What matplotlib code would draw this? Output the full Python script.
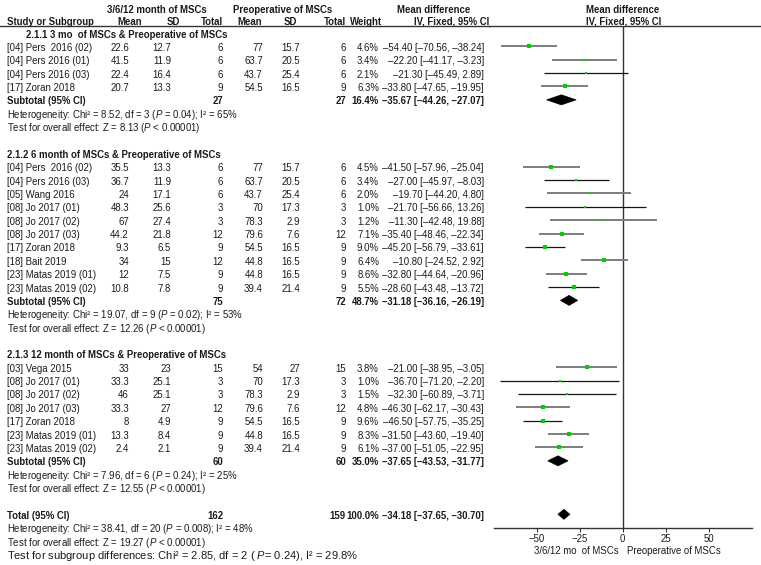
import matplotlib
matplotlib.use("Agg")
import matplotlib.pyplot as plt
from matplotlib.patches import Polygon
from matplotlib.lines import Line2D
import numpy as np

plt.rcParams['font.family'] = ['Liberation Sans', 'DejaVu Sans']
plt.rcParams['mathtext.fontset'] = 'custom'
plt.rcParams['mathtext.it'] = 'Liberation Sans:italic'
plt.rcParams['mathtext.rm'] = 'Liberation Sans'

# ---------------- data ----------------
studies1 = ["[04] Pers  2016 (02)", "[04] Pers 2016 (01)", "[04] Pers 2016 (03)", "[17] Zoran 2018"]
exp_mean1 = [22.6, 41.5, 22.4, 20.7]
exp_sd1 = [12.7, 11.9, 16.4, 13.3]
exp_n1 = [6, 6, 6, 9]
ctl_mean1 = [77, 63.7, 43.7, 54.5]
ctl_sd1 = [15.7, 20.5, 25.4, 16.5]
ctl_n1 = [6, 6, 6, 9]
weight1 = [4.6, 3.4, 2.1, 6.3]
md1 = [-54.40, -22.20, -21.30, -33.80]
lo1 = [-70.56, -41.17, -45.49, -47.65]
hi1 = [-38.24, -3.23, 2.89, -19.95]

studies2 = ["[04] Pers  2016 (02)", "[04] Pers 2016 (03)", "[05] Wang 2016", "[08] Jo 2017 (01)",
            "[08] Jo 2017 (02)", "[08] Jo 2017 (03)", "[17] Zoran 2018", "[18] Bait 2019",
            "[23] Matas 2019 (01)", "[23] Matas 2019 (02)"]
exp_mean2 = [35.5, 36.7, 24, 48.3, 67, 44.2, 9.3, 34, 12, 10.8]
exp_sd2 = [13.3, 11.9, 17.1, 25.6, 27.4, 21.8, 6.5, 15, 7.5, 7.8]
exp_n2 = [6, 6, 6, 3, 3, 12, 9, 12, 9, 9]
ctl_mean2 = [77, 63.7, 43.7, 70, 78.3, 79.6, 54.5, 44.8, 44.8, 39.4]
ctl_sd2 = [15.7, 20.5, 25.4, 17.3, 2.9, 7.6, 16.5, 16.5, 16.5, 21.4]
ctl_n2 = [6, 6, 6, 3, 3, 12, 9, 9, 9, 9]
weight2 = [4.5, 3.4, 2.0, 1.0, 1.2, 7.1, 9.0, 6.4, 8.6, 5.5]
md2 = [-41.50, -27.00, -19.70, -21.70, -11.30, -35.40, -45.20, -10.80, -32.80, -28.60]
lo2 = [-57.96, -45.97, -44.20, -56.66, -42.48, -48.46, -56.79, -24.52, -44.64, -43.48]
hi2 = [-25.04, -8.03, 4.80, 13.26, 19.88, -22.34, -33.61, 2.92, -20.96, -13.72]

studies3 = ["[03] Vega 2015", "[08] Jo 2017 (01)", "[08] Jo 2017 (02)", "[08] Jo 2017 (03)",
            "[17] Zoran 2018", "[23] Matas 2019 (01)", "[23] Matas 2019 (02)"]
exp_mean3 = [33, 33.3, 46, 33.3, 8, 13.3, 2.4]
exp_sd3 = [23, 25.1, 25.1, 27, 4.9, 8.4, 2.1]
exp_n3 = [15, 3, 3, 12, 9, 9, 9]
ctl_mean3 = [54, 70, 78.3, 79.6, 54.5, 44.8, 39.4]
ctl_sd3 = [27, 17.3, 2.9, 7.6, 16.5, 16.5, 21.4]
ctl_n3 = [15, 3, 3, 12, 9, 9, 9]
weight3 = [3.8, 1.0, 1.5, 4.8, 9.6, 8.3, 6.1]
md3 = [-21.00, -36.70, -32.30, -46.30, -46.50, -31.50, -37.00]
lo3 = [-38.95, -71.20, -60.89, -62.17, -57.75, -43.60, -51.05]
hi3 = [-3.05, -2.20, -3.71, -30.43, -35.25, -19.40, -22.95]

section_titles = ["2.1.1 3 mo  of MSCs & Preoperative of MSCs",
                  "2.1.2 6 month of MSCs & Preoperative of MSCs",
                  "2.1.3 12 month of MSCs & Preoperative of MSCs"]
sub_exp_n = [27, 75, 60]
sub_ctl_n = [27, 72, 60]
sub_weight = [16.4, 48.7, 35.0]
sub_md = [-35.67, -31.18, -37.65]
sub_lo = [-44.26, -36.16, -43.53]
sub_hi = [-27.07, -26.19, -31.77]
sub_het = ["Heterogeneity: Chi² = 8.52, df = 3 ($P$ = 0.04); I² = 65%",
           "Heterogeneity: Chi² = 19.07, df = 9 ($P$ = 0.02); I² = 53%",
           "Heterogeneity: Chi² = 7.96, df = 6 ($P$ = 0.24); I² = 25%"]
sub_z = ["Test for overall effect: Z = 8.13 ($P$ < 0.00001)",
         "Test for overall effect: Z = 12.26 ($P$ < 0.00001)",
         "Test for overall effect: Z = 12.55 ($P$ < 0.00001)"]

tot_exp_n = 162
tot_ctl_n = 159
tot_weight = 100.0
tot_md = -34.18
tot_lo = -37.65
tot_hi = -30.70
tot_het = "Heterogeneity: Chi² = 38.41, df = 20 ($P$ = 0.008); I² = 48%"
tot_z = "Test for overall effect: Z = 19.27 ($P$ < 0.00001)"
tot_sub = "Test for subgroup differences: Chi² = 2.85, df = 2 ( $P$= 0.24), I² = 29.8%"

xticks = [-50, -25, 0, 25, 50]
exp_label = "3/6/12 mo  of MSCs"
ctl_label = "Preoperative of MSCs"

sections = [
    (studies1, exp_mean1, exp_sd1, exp_n1, ctl_mean1, ctl_sd1, ctl_n1, weight1, md1, lo1, hi1),
    (studies2, exp_mean2, exp_sd2, exp_n2, ctl_mean2, ctl_sd2, ctl_n2, weight2, md2, lo2, hi2),
    (studies3, exp_mean3, exp_sd3, exp_n3, ctl_mean3, ctl_sd3, ctl_n3, weight3, md3, lo3, hi3),
]

# line rendering tone per row (as it appears in the reference image)
ci_tone = [[0, 0, 1, 0],
           [0, 1, 0, 1, 0, 0, 1, 0, 0, 1],
           [0, 1, 1, 0, 1, 0, 0]]

# ---------------- layout ----------------
W, H = 761, 565
fig = plt.figure(figsize=(W / 100, H / 100), dpi=100)
fig.patch.set_facecolor('white')
at = fig.add_axes([0, 0, 1, 1])
at.set_xlim(0, W)
at.set_ylim(H, 0)
at.axis('off')

FS = 6.9
TC = '#1a1a1a'
Y0, DY = 34.0, 13.37
BASE = 3.5   # baseline offset below visual centre


def ry(r):
    return Y0 + DY * r


def txt(x, y, s, ha='left', bold=False, fs=FS, **kw):
    at.text(x, y + BASE, s, ha=ha, va='baseline', fontsize=fs, color=TC,
            fontweight='bold' if bold else 'normal', **kw)


def fnum(v):
    return f"{v:g}"


def fmd(m, l, h):
    return f"{m:.2f} [{l:.2f}, {h:.2f}]".replace('-', '–')


# column right edges
X_STUDY = 7
X_EM, X_ESD, X_EN = 129, 171, 223
X_CM, X_CSD, X_CN = 263, 300, 346
X_W, X_MD = 379, 484

# headers
txt(157, 9.3, "3/6/12 month of MSCs", ha='center', bold=True)
txt(283, 9.3, "Preoperative of MSCs", ha='center', bold=True)
txt(434, 9.3, "Mean difference", ha='center', bold=True)
txt(623, 9.3, "Mean difference", ha='center', bold=True)
hy = 21.5
txt(X_STUDY, hy, "Study or Subgroup", bold=True)
txt(142, hy, "Mean", ha='right', bold=True)
txt(180, hy, "SD", ha='right', bold=True)
txt(223, hy, "Total", ha='right', bold=True)
txt(262, hy, "Mean", ha='right', bold=True)
txt(297, hy, "SD", ha='right', bold=True)
txt(346, hy, "Total", ha='right', bold=True)
txt(350, hy, "Weight", bold=True)
txt(452, hy, "IV, Fixed, 95% CI", ha='center', bold=True)
txt(624, hy, "IV, Fixed, 95% CI", ha='center', bold=True)
at.add_line(Line2D([0, 489], [25.5, 25.5], color='#333333', lw=1.0))
at.add_line(Line2D([489, W], [26.2, 26.2], color='#333333', lw=1.0))

# forest axes
AX_L, AX_R, AX_B, AX_T = 493.7, 751.7, 527.7, 26.2
af = fig.add_axes([AX_L / W, (H - AX_B) / H, (AX_R - AX_L) / W, (AX_B - AX_T) / H])
af.set_xlim(-75, 75)
af.set_ylim(AX_B, AX_T)
af.patch.set_alpha(0)
for s in ['top', 'right', 'left']:
    af.spines[s].set_visible(False)
af.spines['bottom'].set_color('#333333')
af.spines['bottom'].set_linewidth(1.0)
af.set_yticks([])
af.set_xticks(xticks)
af.tick_params(axis='x', length=3, width=0.8, color='#333333', pad=1.5,
               labelsize=FS, labelcolor=TC)
af.axvline(0, color='#333333', lw=1.0)

LINE_OFF = -1.0


def diamond(m, l, h, y, hh=5.0):
    af.add_patch(Polygon([[l, y], [m, y - hh], [h, y], [m, y + hh]], closed=True,
                         facecolor='black', edgecolor='black', lw=0.5))


r = 0
for si, sec in enumerate(sections):
    st, em, esd, en, cm, csd, cn, wt, md, lo, hi = sec
    title_x = 26 if si == 0 else X_STUDY
    txt(title_x, ry(r), section_titles[si], bold=True)
    r += 1
    for i in range(len(st)):
        y = ry(r)
        txt(X_STUDY, y, st[i])
        txt(X_EM, y, fnum(em[i]), ha='right')
        txt(X_ESD, y, fnum(esd[i]), ha='right')
        txt(X_EN, y, fnum(en[i]), ha='right')
        txt(X_CM, y, fnum(cm[i]), ha='right')
        txt(X_CSD, y, fnum(csd[i]), ha='right')
        txt(X_CN, y, fnum(cn[i]), ha='right')
        txt(X_W, y, f"{wt[i]:.1f}%", ha='right')
        txt(X_MD, y, fmd(md[i], lo[i], hi[i]), ha='right')
        dark = ci_tone[si][i] == 1
        af.plot([lo[i], hi[i]], [y + LINE_OFF, y + LINE_OFF],
                color='#151515' if dark else '#7d7d7d',
                lw=0.9 if dark else 1.4, solid_capstyle='butt', zorder=2)
        af.plot([md[i]], [y + LINE_OFF], marker='s', linestyle='none', color='#00d000',
                markeredgewidth=0, markersize=0.6 * np.sqrt(wt[i]) + 1.0, zorder=3)
        r += 1
    y = ry(r)
    txt(X_STUDY, y, "Subtotal (95% CI)", bold=True)
    txt(X_EN, y, fnum(sub_exp_n[si]), ha='right', bold=True)
    txt(X_CN, y, fnum(sub_ctl_n[si]), ha='right', bold=True)
    txt(X_W, y, f"{sub_weight[si]:.1f}%", ha='right', bold=True)
    txt(X_MD, y, fmd(sub_md[si], sub_lo[si], sub_hi[si]), ha='right', bold=True)
    diamond(sub_md[si], sub_lo[si], sub_hi[si], y + LINE_OFF)
    r += 1
    txt(X_STUDY, ry(r), sub_het[si]); r += 1
    txt(X_STUDY, ry(r), sub_z[si]); r += 1
    r += 1

y = ry(r)
txt(X_STUDY, y, "Total (95% CI)", bold=True)
txt(X_EN, y, fnum(tot_exp_n), ha='right', bold=True)
txt(X_CN, y, fnum(tot_ctl_n), ha='right', bold=True)
txt(X_W, y, f"{tot_weight:.1f}%", ha='right', bold=True)
txt(X_MD, y, fmd(tot_md, tot_lo, tot_hi), ha='right', bold=True)
diamond(tot_md, tot_lo, tot_hi, y + LINE_OFF)
r += 1
txt(X_STUDY, ry(r), tot_het); r += 1
txt(X_STUDY, ry(r), tot_z); r += 1
txt(X_STUDY, ry(r), tot_sub, fs=FS * 1.16); r += 1

# axis direction labels
txt(619, 551, exp_label, ha='right')
txt(627, 551, ctl_label, ha='left')

fig.savefig("out.png", dpi=100, facecolor='white')
